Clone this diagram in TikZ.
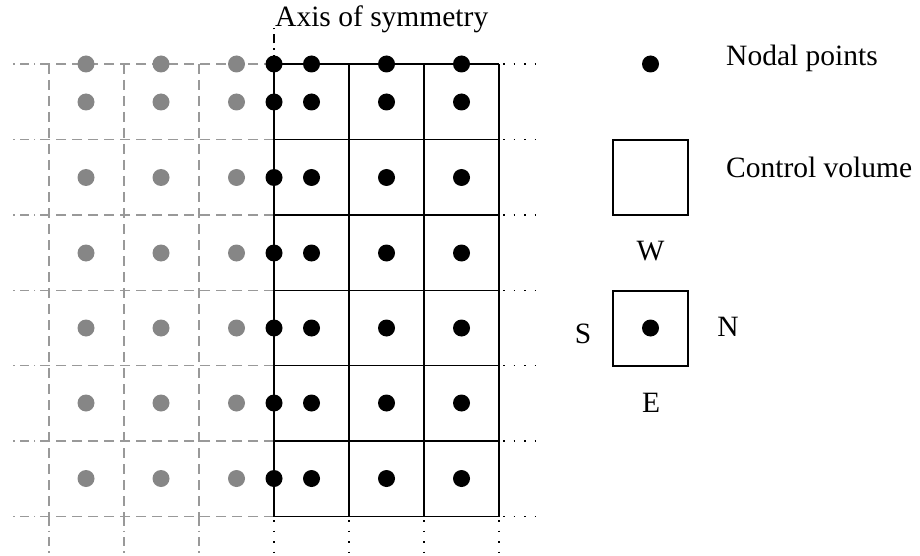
\documentclass[tikz,border=0pt]{standalone}
\usepackage{fontspec}
\setmainfont{Liberation Serif}
\begin{document}
\begin{tikzpicture}[x=1pt,y=-1pt,
  solidline/.style={black,line width=1.2pt},
  grayline/.style={gray!80,line width=1.2pt,dash pattern=on 10pt off 6pt},
  graydashdot/.style={gray!80,line width=1.2pt,dash pattern=on 9pt off 5pt on 1.5pt off 5pt},
  blackdotted/.style={black,line width=1.2pt,dash pattern=on 1.5pt off 9pt},
  axisline/.style={black,line width=1.2pt,dash pattern=on 9pt off 5pt on 1.5pt off 5pt},
  blackpt/.style={circle,fill=black,inner sep=0pt,minimum size=17pt},
  graypt/.style={circle,fill=gray!95,inner sep=0pt,minimum size=17pt},
  lbl/.style={font=\fontsize{29.5}{35}\selectfont,inner sep=0pt},
  legendbox/.style={draw=black,line width=1.2pt,minimum size=75pt,inner sep=0pt}
]
\useasboundingbox (0,0) rectangle (920,556);
\def\ys{64,139.5,215,290.3,365.7,441,516.5}
\foreach \y in \ys {
  \draw[solidline] (274,\y) -- (499,\y);
  \draw[blackdotted] (503,\y) -- (537,\y);
  \draw[grayline] (274,\y) -- (49,\y);
  \draw[graydashdot] (49,\y) -- (10,\y);
}
\foreach \x in {274,349,424,499} {
  \draw[solidline] (\x,64) -- (\x,516.5);
  \draw[blackdotted] (\x,520) -- (\x,556);
}
\foreach \x in {49,124,199} {
  \draw[grayline] (\x,64) -- (\x,516.5);
  \draw[graydashdot] (\x,516.5) -- (\x,556);
}
% axis of symmetry
\draw[axisline] (274,64) -- (274,28);
\node[lbl,anchor=base west] (axis) at (275,26.5) {Axis of symmetry};
% points
\foreach \y [count=\j] in {64,102,177.5,253,328,403,478.5} {
  \foreach \x [count=\i] in {86,161,236.5} {
    \node[graypt] (g\i-\j) at (\x,\y) {};
  }
  \foreach \x [count=\i] in {274,311.5,386.5,461.5} {
    \node[blackpt] (b\i-\j) at (\x,\y) {};
  }
}
% legend
\node[blackpt] (legpt) at (650.5,64) {};
\node[lbl,anchor=base west] (legptlbl) at (726,65.5) {Nodal points};
\node[legendbox] (legcv) at (650.5,177.5) {};
\node[lbl,anchor=base west] (legcvlbl) at (726,177.5) {Control volume};
\node[lbl,anchor=base] (W) at (650.5,260) {W};
\node[legendbox] (legcell) at (650.5,328.5) {};
\node[blackpt] (legcellpt) at (650.5,328) {};
\node[lbl,anchor=base] (S) at (583,343) {S};
\node[lbl,anchor=base] (N) at (728,336) {N};
\node[lbl,anchor=base] (E) at (651,412) {E};
\end{tikzpicture}
\end{document}
